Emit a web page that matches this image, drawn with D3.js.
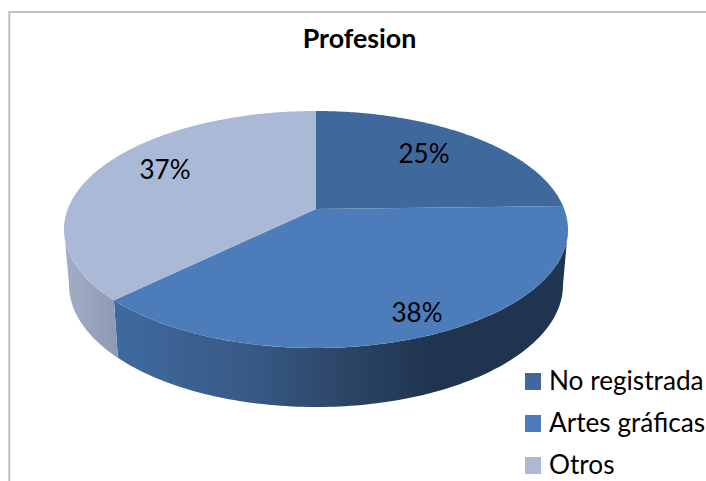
<!DOCTYPE html>
<html><head><meta charset="utf-8">
<script src="https://cdn.jsdelivr.net/npm/d3@7"></script>
<style>html,body{margin:0;padding:0;background:#fff}svg{display:block}text{font-family:Lato,"Open Sans",sans-serif;fill:#000}</style>
</head><body><svg id="c" width="706" height="481"></svg>
<script>
const title = "Profesion";
const categories = ["No registrada", "Artes gráficas", "Otros"];
const values = [24.6, 38.1, 37.3];
const colors = ["#3f699c", "#4c7dba", "#aab9d6"];

const svg = d3.select("#c");
svg.append("path").attr("d", d3.line()([[9.3,481],[9.3,12],[706,12]]))
  .attr("fill","none").attr("stroke","#bfbfbf").attr("stroke-width",2);

svg.append("text").text(title).attr("x",359.5).attr("y",47.5)
  .attr("text-anchor","middle").attr("font-size",26.8).attr("font-weight",700);

const total = d3.sum(values);
const arcs = d3.pie().sort(null).value(d=>d)(values);
const k = 0.173;
// perspective view of a disc: angle -> point on an ellipse, apex off-centre
function proj(E, t, r=1){
  const x = r*Math.sin(t), y = -r*Math.cos(t);
  const w = 1 - k*y;
  return [E.cx + E.a*x*Math.sqrt(1-k*k)/w, E.cy + E.b*(y-k)/w];
}
const topE = {cx:316, cy:229.5, a:252, b:118.5};
const botE = {cx:316, cy:285, a:247, b:122};
const samples = (a,b,n=120)=>d3.range(n+1).map(i=>a+(b-a)*i/n);
const line = d3.line();

const defs = svg.append("defs");
const gA = defs.append("linearGradient").attr("id","wallA").attr("gradientUnits","userSpaceOnUse")
  .attr("x1",113).attr("x2",560).attr("y1",0).attr("y2",0);
[[0,"#3f6a9f"],[0.3,"#385a86"],[0.55,"#2a4262"],[0.72,"#1f344f"],[1,"#1f344f"]]
  .forEach(s=>gA.append("stop").attr("offset",s[0]).attr("stop-color",s[1]));
const gO = defs.append("linearGradient").attr("id","wallO").attr("gradientUnits","userSpaceOnUse")
  .attr("x1",64).attr("x2",118).attr("y1",0).attr("y2",0);
[[0,"#a3aec6"],[1,"#8d99b3"]].forEach(s=>gO.append("stop").attr("offset",s[0]).attr("stop-color",s[1]));

// walls: visible front part of the rim, from the right extreme to the left extreme
const rightT = Math.PI/2 + 0.17, leftT = 2*Math.PI - Math.PI/2 - 0.17;
const wall = (a,b)=>{
  const ts = samples(a,b);
  return line(ts.map(t=>proj(topE,t)).concat(ts.slice().reverse().map(t=>proj(botE,t))))+"Z";
};
const a1 = arcs[1], a2 = arcs[2];
svg.append("path").attr("d",wall(rightT,a1.endAngle)).attr("fill","url(#wallA)");
svg.append("path").attr("d",wall(a2.startAngle,leftT)).attr("fill","url(#wallO)");

// top faces
svg.append("g").selectAll("path").data(arcs).join("path")
  .attr("fill",(d,i)=>colors[i])
  .attr("d",d=>{
    const pts = samples(d.startAngle,d.endAngle).map(t=>proj(topE,t));
    return line([proj(topE,0,0),...pts])+"Z";
  });

// data labels
const pctPos = [[424,163],[417,322],[165,179]];
svg.append("g").selectAll("text").data(arcs).join("text")
  .attr("x",(d,i)=>pctPos[i][0]).attr("y",(d,i)=>pctPos[i][1])
  .attr("text-anchor","middle").attr("font-size",26)
  .text(d=>d3.format(".0%")(d.value/total));

// legend
const ly = d3.scalePoint().domain(categories).range([381.5,465.5]);
const lg = svg.append("g").selectAll("g").data(categories).join("g")
  .attr("transform",d=>`translate(525,${ly(d)})`);
lg.append("rect").attr("width",16).attr("height",17).attr("y",-8.5).attr("fill",(d,i)=>colors[i]);
lg.append("text").text(d=>d).attr("x",24).attr("y",8.5).attr("font-size",26.2);
</script></body></html>
